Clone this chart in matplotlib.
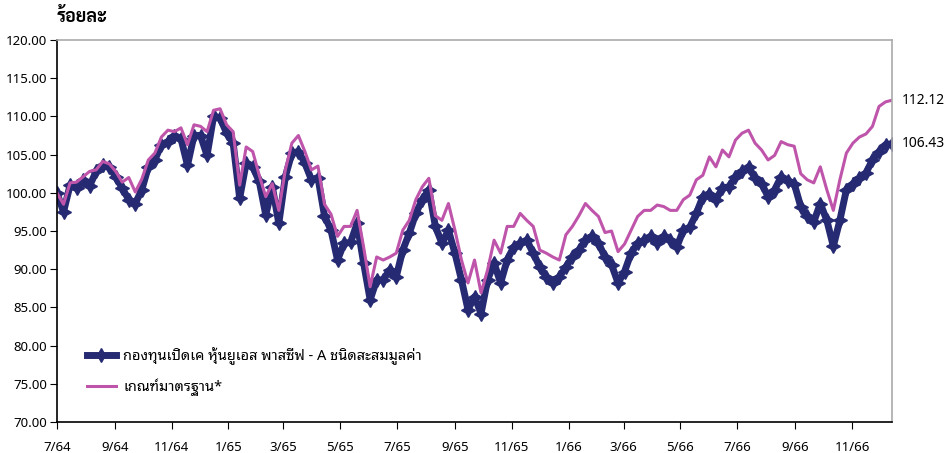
import matplotlib
matplotlib.use("Agg")
import matplotlib.pyplot as plt
import pandas as pd

plt.rcParams['font.family'] = ['Noto Sans', 'Noto Sans Thai Looped', 'Noto Sans Thai', 'Sarabun', 'DejaVu Sans']

# weekly values, starting 1 Jul 2021 (= 7/64 in Thai years)
fund = [100.0, 97.5, 101.0, 100.6, 101.7, 100.9, 102.8, 103.6, 103.4, 102.1,
        100.6, 99.1, 98.6, 100.4, 103.4, 104.3, 106.3, 106.7, 107.5, 107.1,
        103.6, 107.5, 107.5, 104.9, 110.0, 109.8, 107.8, 106.5, 99.3, 103.9,
        103.4, 101.5, 97.1, 100.8, 96.0, 102.1, 105.2, 105.4, 103.9, 101.7,
        102.0, 97.0, 95.1, 91.2, 93.4, 93.5, 96.0, 90.8, 86.0, 88.6,
        88.6, 89.9, 89.0, 92.5, 94.7, 97.3, 99.1, 100.4, 95.6, 93.4,
        95.1, 92.1, 88.6, 84.7, 86.4, 84.2, 88.6, 90.8, 88.2, 91.2,
        92.9, 93.4, 93.8, 92.1, 90.3, 89.0, 88.2, 89.0, 90.3, 91.6,
        92.5, 93.8, 94.3, 93.4, 91.6, 90.6, 88.2, 89.7, 92.1, 93.4,
        93.8, 94.3, 93.4, 94.3, 93.8, 92.9, 95.1, 95.5, 97.3, 99.5,
        99.9, 99.1, 100.6, 100.8, 102.1, 102.8, 103.4, 101.9, 101.2, 99.5,
        100.4, 102.1, 101.6, 101.2, 98.2, 96.9, 96.2, 98.6, 96.4, 93.0,
        96.4, 100.4, 101.2, 101.9, 102.6, 104.3, 105.4, 106.3, 106.43]

bench = [100.0, 98.5, 101.3, 101.4, 102.1, 102.8, 103.0, 104.1, 103.8, 102.8,
         101.4, 102.0, 100.1, 101.8, 104.3, 105.2, 107.3, 108.2, 108.0, 108.5,
         106.3, 108.9, 108.7, 108.0, 110.8, 111.0, 108.9, 108.0, 101.0, 106.0,
         105.4, 102.3, 99.5, 101.2, 97.7, 103.0, 106.5, 107.5, 105.4, 103.0,
         103.5, 98.5, 97.2, 94.3, 95.6, 95.6, 97.7, 92.9, 87.7, 91.6,
         91.2, 91.6, 92.1, 95.1, 96.4, 99.1, 100.8, 101.9, 97.0, 96.4,
         98.6, 95.1, 91.2, 88.2, 91.2, 86.9, 89.9, 93.8, 92.1, 95.6,
         95.6, 97.3, 96.4, 95.6, 92.5, 92.1, 91.6, 91.2, 94.5, 95.6,
         97.0, 98.6, 97.7, 96.9, 94.8, 95.0, 92.3, 93.3, 95.1, 96.9,
         97.7, 97.7, 98.4, 98.2, 97.7, 97.7, 99.1, 99.7, 101.7, 102.3,
         104.7, 103.4, 105.6, 104.7, 106.9, 107.8, 108.2, 106.5, 105.6, 104.3,
         104.9, 106.7, 106.3, 106.1, 102.5, 101.7, 101.3, 103.4, 100.4, 97.7,
         101.7, 105.2, 106.5, 107.3, 107.7, 108.7, 111.3, 111.9, 112.12]

dates = pd.date_range("2021-07-01", periods=len(fund), freq="7D")

tick_dates = pd.date_range("2021-07-01", "2023-11-01", freq="2MS")
tick_labels = ["7/64", "9/64", "11/64", "1/65", "3/65", "5/65", "7/65", "9/65",
               "11/65", "1/66", "3/66", "5/66", "7/66", "9/66", "11/66"]

fund_name = "กองทุนเปิดเค หุ้นยูเอส พาสซีฟ - A ชนิดสะสมมูลค่า"
bench_name = "เกณฑ์มาตรฐาน*"

navy = "#262a72"
pink = "#bf55ab"

fig = plt.figure(figsize=(9.5, 4.53), dpi=100)
ax = fig.add_axes([0.06, 0.0684, 0.879, 0.8433])

ax.plot(dates, fund, color=navy, lw=5, marker=(4, 1, 0), ms=10, mec=navy, mfc=navy, label=fund_name)
ax.plot(dates, bench, color=pink, lw=2.2, label=bench_name)

ax.set_ylim(70, 120)
ax.set_yticks(range(70, 121, 5))
ax.set_yticklabels(["%.2f" % v for v in range(70, 121, 5)])
ax.set_xlim(dates[0], dates[-1])
ax.set_xticks(tick_dates)
ax.set_xticklabels(tick_labels)

ax.tick_params(axis="both", labelsize=9.5, color="black", length=5, direction="out")
ax.tick_params(axis="x", pad=9)
ax.tick_params(axis="y", pad=2)
for s in ["left", "bottom"]:
    ax.spines[s].set_color("black")
    ax.spines[s].set_linewidth(1.2)
for s in ["top", "right"]:
    ax.spines[s].set_color("#aaaaaa")
    ax.spines[s].set_linewidth(1.2)

# end values next to the right edge
ax.text(1.012, (fund[-1] - 70) / 50, "%.2f" % fund[-1], transform=ax.transAxes, va="center", ha="left", fontsize=10)
ax.text(1.012, (bench[-1] - 70) / 50, "%.2f" % bench[-1], transform=ax.transAxes, va="center", ha="left", fontsize=10)

ax.legend(loc="upper left", bbox_to_anchor=(0.02, 0.23), frameon=False, fontsize=10.5,
          handlelength=2.0, handletextpad=0.5, labelspacing=0.9)

fig.text(0.06, 0.962, "ร้อยละ", fontsize=13, fontweight="bold", va="center", ha="left",
         family=["Sarabun", "Noto Sans Thai", "DejaVu Sans"])

fig.savefig("out.png", dpi=100)
